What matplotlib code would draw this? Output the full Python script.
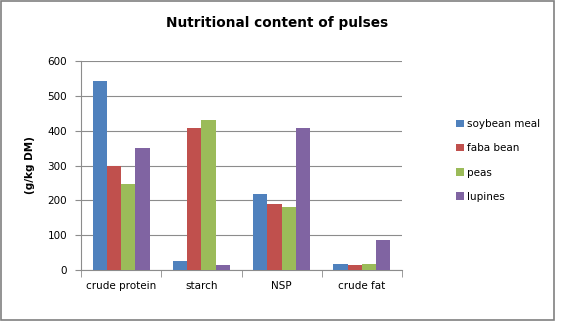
import numpy as np
import matplotlib.pyplot as plt
from matplotlib.patches import Rectangle

categories = ['crude protein', 'starch', 'NSP', 'crude fat']
series = ['soybean meal', 'faba bean', 'peas', 'lupines']
soybean_meal = [542, 27, 219, 18]
faba_bean = [300, 407, 190, 15]
peas = [247, 430, 181, 18]
lupines = [350, 15, 407, 87]
values = [soybean_meal, faba_bean, peas, lupines]
colors = ['#4F81BD', '#C0504D', '#9BBB59', '#8064A2']

plt.rcParams['font.family'] = ['DejaVu Sans']

fig = plt.figure(figsize=(5.61, 3.22), dpi=100)
W, H = 561, 322
ax = fig.add_axes([81 / W, 1 - 270 / H, (402 - 81) / W, (270 - 61) / H])

x = np.arange(len(categories))
bw = 0.177
for i, (name, vals) in enumerate(zip(series, values)):
    ax.bar(x + (i - 1.5) * bw, vals, bw, color=colors[i], label=name, zorder=3)

ax.set_xlim(-0.5, len(categories) - 0.5)
ax.set_ylim(0, 600)
ax.set_yticks(range(0, 601, 100))
ax.yaxis.grid(True, color='#8c8c8c', linewidth=0.8, zorder=0)
ax.set_xticks(x)
ax.set_xticklabels(categories, fontsize=7.5)
ax.set_xticks(np.arange(-0.5, len(categories)), minor=True)
ax.tick_params(axis='x', which='major', length=0, pad=8)
ax.tick_params(axis='x', which='minor', length=5, color='#8c8c8c')
ax.tick_params(axis='y', length=4, color='#8c8c8c', labelsize=7.5, pad=6)
for s in ['top', 'right']:
    ax.spines[s].set_visible(False)
for s in ['left', 'bottom']:
    ax.spines[s].set_color('#8c8c8c')
ax.set_ylabel('(g/kg DM)', fontsize=7.5, fontweight='bold', labelpad=9)

fig.text(277 / W, 1 - 23 / H, 'Nutritional content of pulses',
         ha='center', va='center', fontsize=9.8, fontweight='bold')

leg = ax.legend(loc='upper left', bbox_to_anchor=(447 / W, 1 - 110 / H),
                bbox_transform=fig.transFigure, frameon=False, fontsize=7.5,
                handlelength=0.7, handleheight=0.7, handletextpad=0.3,
                labelspacing=1.35)

fig.patches.append(Rectangle((1 / W, 2 / H), 553 / W, 1 - 3 / H,
                             transform=fig.transFigure, fill=False,
                             edgecolor='#808080', linewidth=1.2))

fig.savefig('out.png', dpi=100)
